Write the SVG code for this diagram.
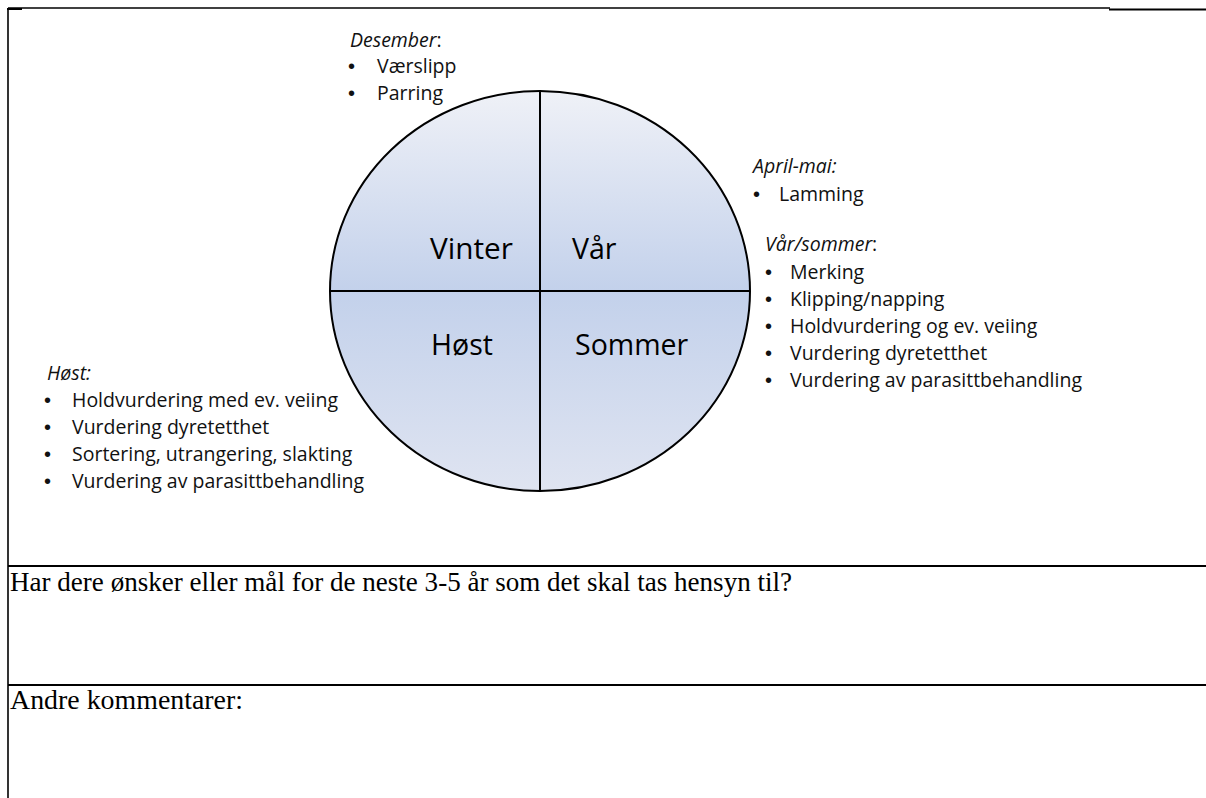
<svg xmlns="http://www.w3.org/2000/svg" width="1206" height="798" viewBox="0 0 1206 798">
<style>
.s{font-family:"Open Sans","Noto Sans","Liberation Sans",sans-serif;font-size:19.5px;fill:#111}
.b{font-family:"Liberation Sans",sans-serif;font-size:20px;fill:#111}
.i{font-style:italic}
.q{font-family:"Open Sans","Noto Sans","Liberation Sans",sans-serif;font-size:28.5px;fill:#000}
.serif{font-family:"Liberation Serif","Times New Roman",serif;font-size:27px;fill:#000}
.ln{stroke:#000;fill:none}
</style>
<defs>
<linearGradient id="g" x1="0" y1="0" x2="0" y2="1">
<stop offset="0" stop-color="#eff1f7"/>
<stop offset="0.5" stop-color="#c3d1eb"/>
<stop offset="1" stop-color="#dfe4f1"/>
</linearGradient>
</defs>
<rect width="1206" height="798" fill="#fff"/>
<g id="table">
<line class="ln" x1="8" y1="8" x2="1110" y2="8" stroke-width="1.5"/>
<line class="ln" x1="1109" y1="9.5" x2="1206" y2="9.5" stroke-width="2"/>
<line class="ln" x1="7" y1="9" x2="22" y2="9" stroke-width="2"/>
<line class="ln" x1="8" y1="8" x2="8" y2="798" stroke-width="1.6"/>
<line class="ln" x1="8" y1="566" x2="1206" y2="566" stroke-width="2"/>
<line class="ln" x1="8" y1="685" x2="1206" y2="685" stroke-width="2"/>
</g>
<g id="wheel">
<ellipse cx="540" cy="291" rx="210" ry="200" fill="url(#g)" stroke="#000" stroke-width="2"/>
</g>
<g id="connectors">
<line class="ln" x1="540" y1="91" x2="540" y2="491" stroke-width="2"/>
<line class="ln" x1="330" y1="291" x2="750" y2="291" stroke-width="2"/>
</g>
<g id="vinter"><text class="q" x="430" y="259" textLength="83" lengthAdjust="spacingAndGlyphs">Vinter</text></g>
<g id="var"><text class="q" x="572" y="259">Vår</text></g>
<g id="host"><text class="q" x="431" y="355">Høst</text></g>
<g id="sommer"><text class="q" x="575" y="355">Sommer</text></g>
<g id="desember">
<text class="s" x="350" y="47"><tspan class="i">Desember</tspan>:</text>
<text class="b" x="348" y="73">•</text><text class="s" x="377" y="73">Værslipp</text>
<text class="b" x="348" y="100">•</text><text class="s" x="377" y="100">Parring</text>
</g>
<g id="aprilmai">
<text class="s i" x="753" y="173">April-mai:</text>
<text class="b" x="753" y="201">•</text><text class="s" x="779" y="201">Lamming</text>
</g>
<g id="varsommer">
<text class="s" x="765" y="251"><tspan class="i">Vår/sommer</tspan>:</text>
<text class="b" x="765" y="279">•</text><text class="s" x="790" y="279">Merking</text>
<text class="b" x="765" y="306">•</text><text class="s" x="790" y="306">Klipping/napping</text>
<text class="b" x="765" y="333">•</text><text class="s" x="790" y="333">Holdvurdering og ev. veiing</text>
<text class="b" x="765" y="360">•</text><text class="s" x="790" y="360">Vurdering dyretetthet</text>
<text class="b" x="765" y="387">•</text><text class="s" x="790" y="387" textLength="292" lengthAdjust="spacingAndGlyphs">Vurdering av parasittbehandling</text>
</g>
<g id="hoststliste">
<text class="s i" x="47" y="380">Høst:</text>
<text class="b" x="44" y="407">•</text><text class="s" x="72" y="407">Holdvurdering med ev. veiing</text>
<text class="b" x="44" y="434">•</text><text class="s" x="72" y="434">Vurdering dyretetthet</text>
<text class="b" x="44" y="461">•</text><text class="s" x="72" y="461">Sortering, utrangering, slakting</text>
<text class="b" x="44" y="488">•</text><text class="s" x="72" y="488" textLength="292" lengthAdjust="spacingAndGlyphs">Vurdering av parasittbehandling</text>
</g>
<g id="sporsmal">
<text class="serif" x="10" y="591" textLength="782" lengthAdjust="spacingAndGlyphs">Har dere ønsker eller mål for de neste 3-5 år som det skal tas hensyn til?</text>
</g>
<g id="kommentarer">
<text class="serif" x="10" y="709" textLength="233" lengthAdjust="spacingAndGlyphs">Andre kommentarer:</text>
</g>
</svg>
